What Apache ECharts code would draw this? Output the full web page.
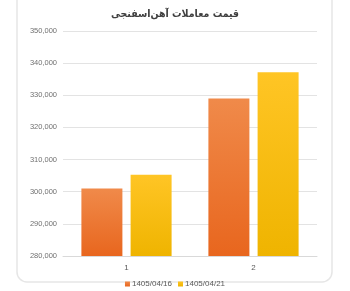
<!DOCTYPE html>
<html><head><meta charset="utf-8">
<script src="https://cdn.jsdelivr.net/npm/echarts@6/dist/echarts.min.js"></script>
<style>html,body{margin:0;padding:0;background:#fff}#c{width:350px;height:291px}</style>
</head><body><div id="c"></div>
<script>
const titleText = 'قیمت معاملات آهن‌اسفنجی';
const categories = ['1', '2'];
const seriesNames = ['1405/04/16', '1405/04/21'];
const values0416 = [301000, 329000];
const values0421 = [305300, 337200];
const yMin = 280000, yMax = 350000, yStep = 10000;

const chart = echarts.init(document.getElementById('c'), null, {renderer: 'canvas'});
function grad(top, bottom) {
  return new echarts.graphic.LinearGradient(0, 0, 0, 1, [{offset: 0, color: top}, {offset: 1, color: bottom}]);
}
chart.setOption({
  animation: false,
  backgroundColor: '#fff',
  graphic: [{
    type: 'rect', shape: {x: 17, y: -10, width: 315, height: 292, r: 10},
    style: {fill: '#fff', stroke: '#e6e6e6', lineWidth: 1.5}, z: -10, silent: true
  }],
  title: {
    text: titleText, left: 'center', top: 4,
    textStyle: {fontFamily: 'DejaVu Sans Condensed', fontSize: 10.5, fontWeight: 'bold', color: '#404040'}
  },
  grid: {left: 63, right: 33, top: 31, bottom: 35},
  legend: {
    bottom: -2, left: 'center', itemWidth: 5, itemHeight: 5, itemGap: 6,
    icon: 'rect',
    textStyle: {fontFamily: 'Liberation Sans', fontSize: 8, color: '#595959', padding: [0, 0, 0, -3]},
    data: seriesNames
  },
  xAxis: {
    type: 'category', data: categories,
    axisLine: {lineStyle: {color: '#d9d9d9'}}, axisTick: {show: false},
    axisLabel: {fontFamily: 'Liberation Sans', fontSize: 8, color: '#595959', margin: 8}
  },
  yAxis: {
    type: 'value', min: yMin, max: yMax, interval: yStep,
    axisLine: {show: false}, axisTick: {show: false},
    splitLine: {lineStyle: {color: '#e3e3e3'}},
    axisLabel: {
      fontFamily: 'Liberation Sans', fontSize: 7.5, color: '#707070', margin: 6,
      formatter: v => v.toLocaleString('en-US')
    }
  },
  series: [
    {name: seriesNames[0], type: 'bar', data: values0416, barWidth: 41, barGap: '20%',
     itemStyle: {color: grad('#f08a4a', '#e8661e')}},
    {name: seriesNames[1], type: 'bar', data: values0421, barWidth: 41,
     itemStyle: {color: grad('#ffc525', '#efb400')}}
  ]
});
</script></body></html>
